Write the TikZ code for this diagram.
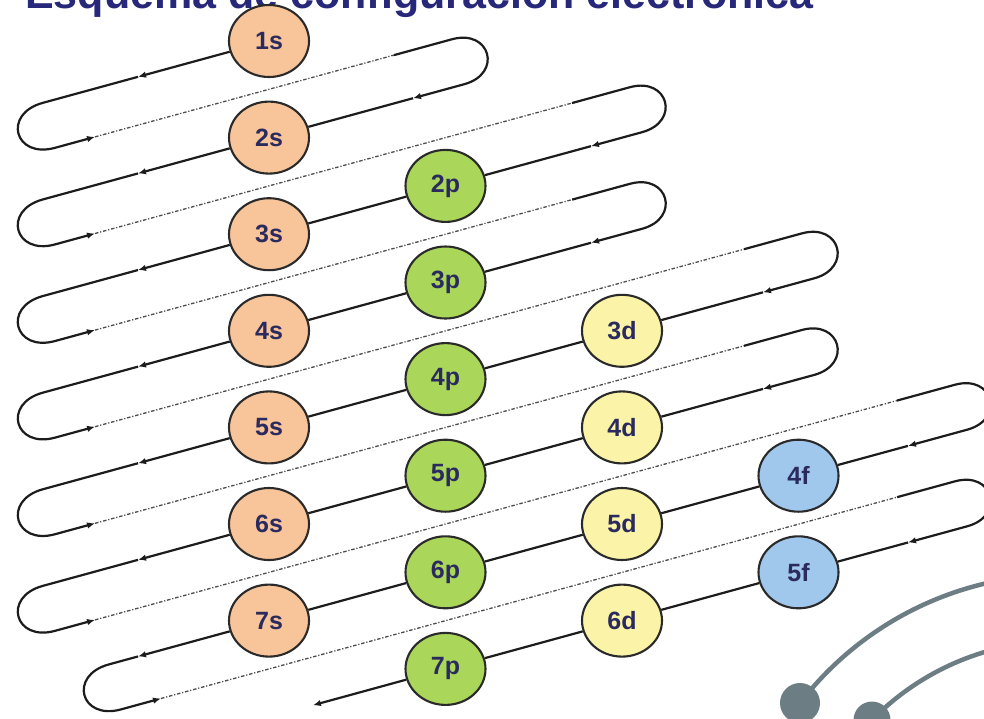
\documentclass[tikz,border=0pt]{standalone}
\usepackage{fontspec}
\setmainfont{Liberation Sans}
\usetikzlibrary{shapes.geometric, arrows.meta}

\definecolor{sfill}{HTML}{F8C499}
\definecolor{pfill}{HTML}{AAD75A}
\definecolor{dfill}{HTML}{FAF3A8}
\definecolor{ffill}{HTML}{A0C8EC}
\definecolor{labelc}{HTML}{2A2A5E}
\definecolor{titlec}{HTML}{27287A}
\definecolor{decoc}{HTML}{6C7D84}
\definecolor{rimc}{HTML}{2A2A2A}
\definecolor{trailc}{HTML}{1C1C1C}

\tikzset{
  orb/.style={ellipse, draw=rimc, line width=2.1pt, minimum width=80pt, minimum height=72pt,
    inner sep=0pt, font=\fontsize{25}{25}\selectfont\bfseries, text=labelc},
  sorb/.style={orb, fill=sfill},
  porb/.style={orb, fill=pfill},
  dorb/.style={orb, fill=dfill},
  forb/.style={orb, fill=ffill},
  trail/.style={line width=2.2pt, draw=trailc},
  ret/.style={line width=1.3pt, draw=black!70, dash pattern=on 3.5pt off 1.8pt on 1.2pt off 1.8pt},
  tip/.style={-{Latex[length=8pt,width=6.5pt]}},
  decoline/.style={line width=4.5pt, draw=decoc},
  decodot/.style={circle, fill=decoc, inner sep=0pt}
}

\begin{document}
\begin{tikzpicture}
\useasboundingbox (0pt,0pt) rectangle (984pt,-718pt);
\begin{scope}
\clip (0pt,0pt) rectangle (984pt,-718pt);
\fill[white] (0pt,0pt) rectangle (984pt,-718pt);

% ---------- title and orbitals (image coordinates) ----------
\begin{scope}[x=1pt,y=-1pt]
\node[anchor=base west, inner sep=0pt, text=titlec, font=\fontsize{43}{43}\selectfont\bfseries]
  (title) at (25,8) {Esquema de configuración electrónica};

\node[sorb] (s1) at (269,41)    {1s};
\node[sorb] (s2) at (269,137.6) {2s};
\node[sorb] (s3) at (269,234.2) {3s};
\node[sorb] (s4) at (269,330.8) {4s};
\node[sorb] (s5) at (269,427.4) {5s};
\node[sorb] (s6) at (269,524)   {6s};
\node[sorb] (s7) at (269,620.6) {7s};

\node[porb] (p2) at (445.5,185.9) {2p};
\node[porb] (p3) at (445.5,282.5) {3p};
\node[porb] (p4) at (445.5,379.1) {4p};
\node[porb] (p5) at (445.5,475.7) {5p};
\node[porb] (p6) at (445.5,572.3) {6p};
\node[porb] (p7) at (445.5,668.9) {7p};

\node[dorb] (d3) at (622,330.8) {3d};
\node[dorb] (d4) at (622,427.4) {4d};
\node[dorb] (d5) at (622,524)   {5d};
\node[dorb] (d6) at (622,620.6) {6d};

\node[forb] (f4) at (798.5,475.7) {4f};
\node[forb] (f5) at (798.5,572.3) {5f};

% decorative arcs
\coordinate (dc1) at (800,703);
\coordinate (dc2) at (872,720);
\draw[decoline] (dc1) arc[start angle=217.6, end angle=262, radius=329];
\draw[decoline] (dc2) arc[start angle=224.4, end angle=266, radius=263];
\node[decodot, minimum size=40pt] (dot1) at (dc1) {};
\node[decodot, minimum size=37pt] (dot2) at (dc2) {};
\end{scope}

% ---------- serpentine (frame along the diagonals) ----------
\begin{scope}[shift={(269pt,-41pt)}, x={(0.9646pt,0.2638pt)}, y={(0.2638pt,-0.9646pt)}]
\foreach \n/\sa/\la/\lb/\ta/\tb in {
  1/-234.6/-135.8/-193.1/0/46.59,
  2/-260.1/-161.3/-218.6/93.18/139.77,
  3/-285.6/-186.8/-244.1/186.36/232.95,
  4/-311.0/-212.2/-269.5/279.54/326.13,
  5/-336.5/-237.7/-295.0/372.72/419.31,
  6/-362.0/-263.2/-320.5/465.9/512.49,
  7/-319.1/-288.7/-277.6/559.08/605.67}{
  \coordinate (A\n) at (\sa,\ta);
  \coordinate (B\n) at (\sa,\tb);
  \coordinate (La\n) at (\la,\ta);
  \coordinate (Lb\n) at (\lb,\tb);
}
\foreach \n/\sd/\rt/\ra/\tt/\td in {
  2/176.9/116.9/123.8/46.59/93.18,
  3/335.9/275.9/282.8/139.77/186.36,
  4/310.5/250.5/257.4/232.95/279.54,
  5/463.3/403.3/410.2/326.13/372.72,
  6/437.8/377.8/384.7/419.31/465.9,
  7/570.9/510.9/509.5/512.49/559.08,
  8/545.5/485.5/484.1/605.67/652.26}{
  \coordinate (D\n) at (\sd,\tt);
  \coordinate (C\n) at (\sd,\td);
  \coordinate (Rt\n) at (\rt,\tt);
  \coordinate (Ra\n) at (\ra,\td);
}
\coordinate (End) at (-132.8,652.26);

\foreach \a/\b in {1/2,2/3,3/4,4/5,5/6,6/7,7/8}{
  \draw[ret] (Lb\a) -- (Rt\b);
}
\foreach \n in {1,...,7}{
  \draw[trail,tip] (La\n) -- (A\n) .. controls +(-42,0) and +(-42,0) .. (B\n) -- (Lb\n);
}
\foreach \n in {2,...,8}{
  \draw[trail,tip] (Rt\n) -- (D\n) .. controls +(40,0) and +(40,0) .. (C\n) -- (Ra\n);
}

\draw[trail,tip] (s1) -- (La1);
\draw[trail] (Ra2) -- (s2);
\draw[trail,tip] (s2) -- (La2);
\draw[trail] (Ra3) -- (p2);
\draw[trail] (p2) -- (s3);
\draw[trail,tip] (s3) -- (La3);
\draw[trail] (Ra4) -- (p3);
\draw[trail] (p3) -- (s4);
\draw[trail,tip] (s4) -- (La4);
\draw[trail] (Ra5) -- (d3);
\draw[trail] (d3) -- (p4);
\draw[trail] (p4) -- (s5);
\draw[trail,tip] (s5) -- (La5);
\draw[trail] (Ra6) -- (d4);
\draw[trail] (d4) -- (p5);
\draw[trail] (p5) -- (s6);
\draw[trail,tip] (s6) -- (La6);
\draw[trail] (Ra7) -- (f4);
\draw[trail] (f4) -- (d5);
\draw[trail] (d5) -- (p6);
\draw[trail] (p6) -- (s7);
\draw[trail,tip] (s7) -- (La7);
\draw[trail] (Ra8) -- (f5);
\draw[trail] (f5) -- (d6);
\draw[trail] (d6) -- (p7);
\draw[trail,tip] (p7) -- (End);
\end{scope}
\end{scope}
\end{tikzpicture}
\end{document}
